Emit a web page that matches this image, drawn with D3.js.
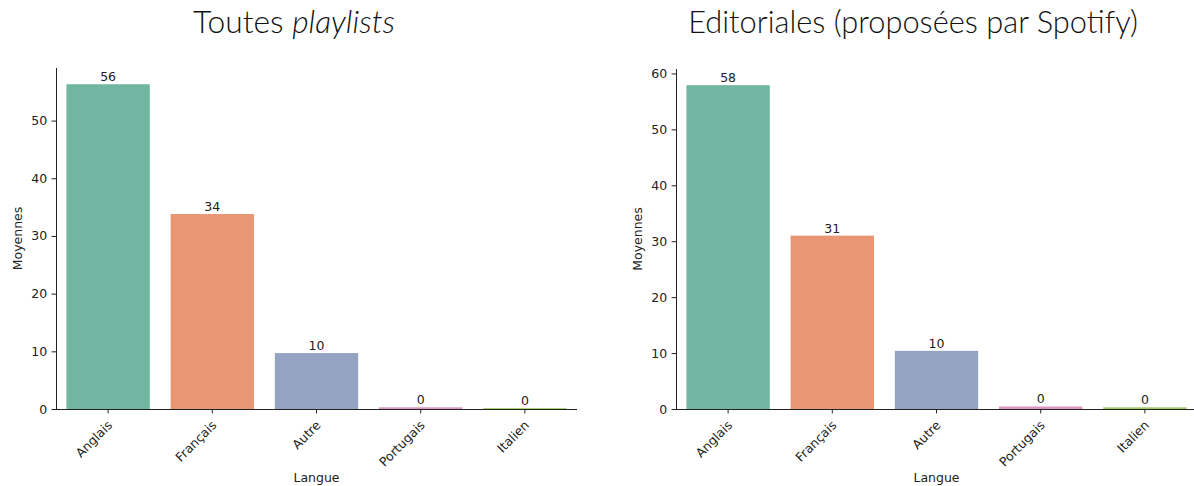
<!DOCTYPE html>
<html><head><meta charset="utf-8">
<script src="https://cdn.jsdelivr.net/npm/d3@7"></script>
<style>
body{margin:0;background:#fff;}
svg text{font-family:"DejaVu Sans",sans-serif;}
</style></head>
<body><svg id="c" width="1194" height="486"></svg>
<script>
const categories = ["Anglais","Français","Autre","Portugais","Italien"];
const valuesAll = [56.3, 33.8, 9.7, 0.3, 0.15];
const valuesEdito = [57.9, 31.0, 10.4, 0.45, 0.3];
const ticksAll = [0,10,20,30,40,50];
const ticksEdito = [0,10,20,30,40,50,60];
const colors = ["#71b6a1","#e99675","#95a3c3","#db96c1","#a2c764"];
const xLabel = "Langue", yLabel = "Moyennes";

const svg = d3.select("#c");
const FS = 12.5;

function panel(opts){
  const {x0,x1,y0,y1,values,ticks,titleParts,titleCx,titleW,ylabX} = opts;
  const g = svg.append("g");
  const x = d3.scaleBand().domain(categories).range([x0,x1]).paddingInner(0.2).paddingOuter(0.1);
  const ymax = d3.max(values)*1.05;
  const y = d3.scaleLinear().domain([0,ymax]).range([y0,y1]);
  g.selectAll("rect").data(categories).join("rect")
    .attr("x", d=>x(d)).attr("width", x.bandwidth())
    .attr("y", (d,i)=>y(values[i])).attr("height",(d,i)=>y0-y(values[i]))
    .attr("fill",(d,i)=>colors[i]);
  g.selectAll("text.bl").data(categories).join("text").attr("class","bl")
    .attr("x", d=>x(d)+x.bandwidth()/2).attr("y",(d,i)=>y(values[i])-3)
    .attr("text-anchor","middle").attr("font-size",FS).attr("fill","#222")
    .text((d,i)=>d3.format(".0f")(values[i]));
  const ya = g.append("g").attr("transform",`translate(${x0},0)`)
    .call(d3.axisLeft(y).tickValues(ticks).tickSize(4.4).tickPadding(4.4).tickFormat(d3.format("d")));
  ya.select(".domain").attr("stroke","#222").attr("stroke-width",1).attr("d",`M0.5,${y0}V${y1}`);
  ya.selectAll(".tick line").attr("stroke","#222");
  ya.selectAll(".tick text").attr("font-size",FS).attr("fill","#222").attr("font-family","DejaVu Sans");
  const xa = g.append("g").attr("transform",`translate(0,${y0})`)
    .call(d3.axisBottom(x).tickSize(4.4).tickSizeOuter(0));
  xa.select(".domain").attr("stroke","#222").attr("stroke-width",1).attr("d",`M${x0},0.5H${x1}`);
  xa.selectAll(".tick line").attr("stroke","#222");
  xa.selectAll(".tick text").attr("font-size",FS).attr("fill","#222").attr("font-family","DejaVu Sans")
    .attr("text-anchor","end").attr("dy",null).attr("x",0).attr("y",0)
    .attr("transform","translate(5,17) rotate(-45)");
  g.append("text").attr("x",(x0+x1)/2).attr("y",482).attr("text-anchor","middle")
    .attr("font-size",FS).attr("fill","#222").text(xLabel);
  g.append("text").attr("transform",`translate(${ylabX},${(y0+y1)/2}) rotate(-90)`)
    .attr("text-anchor","middle").attr("font-size",FS).attr("fill","#222").text(yLabel);
  const t = svg.append("text").attr("x",titleCx).attr("y",33).attr("text-anchor","middle")
    .attr("font-size",28).attr("font-weight",300).attr("fill","#111").style("font-family","Lato, sans-serif");
  titleParts.forEach(p=>t.append("tspan").style("font-style",p.italic?"italic":"normal").text(p.t));
  // scale font so the title spans the measured width
  const w = t.node().getComputedTextLength();
  t.attr("font-size", 28*titleW/w);
}

panel({x0:56,x1:577,y0:409,y1:68,values:valuesAll,ticks:ticksAll,
  titleParts:[{t:"Toutes "},{t:"playlists",italic:true}],titleCx:294,titleW:202,ylabX:22});
panel({x0:676,x1:1197,y0:409,y1:69,values:valuesEdito,ticks:ticksEdito,
  titleParts:[{t:"Editoriales (proposées par Spotify)"}],titleCx:913,titleW:450,ylabX:642});
</script></body></html>
